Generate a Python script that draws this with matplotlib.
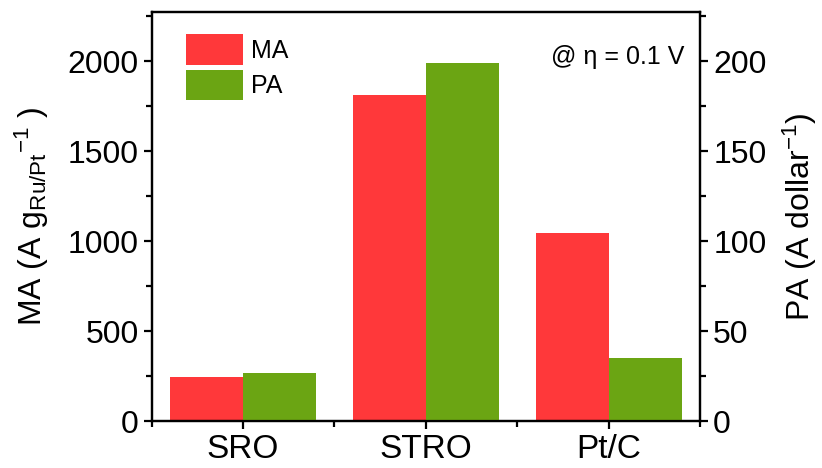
import numpy as np
import matplotlib
matplotlib.use('Agg')
import matplotlib.pyplot as plt
from matplotlib.ticker import MultipleLocator, FixedLocator

plt.rcParams['font.family'] = ['Liberation Sans', 'DejaVu Sans']
plt.rcParams['mathtext.fontset'] = 'custom'
plt.rcParams['mathtext.rm'] = 'Liberation Sans'
plt.rcParams['mathtext.it'] = 'Liberation Sans:italic'

# Mass activity (left axis) and price activity (right axis)
catalysts = ['SRO', 'STRO', 'Pt/C']
mass_activity = [242, 1813, 1042]
price_activity = [26.8, 198.8, 34.8]

RED = '#FF383A'
GREEN = '#6BA513'


def plot_activity():
    fig = plt.figure(figsize=(8.22, 4.68), dpi=100)
    ax = fig.add_axes([0.1846, 0.1004, 0.6670, 0.8730])
    ax2 = ax.twinx()

    x = np.arange(len(catalysts))
    w = 0.4
    b1 = ax.bar(x - w / 2, mass_activity, width=w, color=RED, label='MA')
    b2 = ax2.bar(x + w / 2, price_activity, width=w, color=GREEN, label='PA')

    ax.set_xlim(-0.5, 2.5)
    ax.set_ylim(0, 2270)
    ax2.set_ylim(0, 227)

    ax.set_xticks(x)
    ax.set_xticklabels(catalysts, fontsize=24)
    ax.xaxis.set_minor_locator(FixedLocator([-0.5, 0.5, 1.5, 2.5]))

    ax.yaxis.set_major_locator(MultipleLocator(500))
    ax.yaxis.set_minor_locator(MultipleLocator(250))
    ax2.yaxis.set_major_locator(MultipleLocator(50))
    ax2.yaxis.set_minor_locator(MultipleLocator(25))

    for a in (ax, ax2):
        for s in a.spines.values():
            s.set_linewidth(1.6)
        a.tick_params(which='major', length=6, width=1.6, labelsize=23)
        a.tick_params(which='minor', length=4, width=1.6)
    ax.tick_params(axis='x', which='major', labelsize=24, pad=3)

    ax.set_ylabel(r'MA (A g$_{\mathrm{Ru/Pt}}$$^{\mathrm{-1}}$ )', fontsize=23, labelpad=12)
    ax2.set_ylabel(r'PA (A dollar$^{\mathrm{-1}}$)', fontsize=23, labelpad=10)

    ax.legend([b1, b2], ['MA', 'PA'], loc='upper left', bbox_to_anchor=(0.062, 0.947),
              frameon=False, fontsize=18, handlelength=2.3, handleheight=1.5,
              handletextpad=0.3, labelspacing=0.2, borderpad=0, borderaxespad=0)

    ax.text(0.971, 0.891, '@ η = 0.1 V', transform=ax.transAxes,
            ha='right', va='center', fontsize=18)

    fig.savefig('out.png', dpi=100)


if __name__ == '__main__':
    plot_activity()
